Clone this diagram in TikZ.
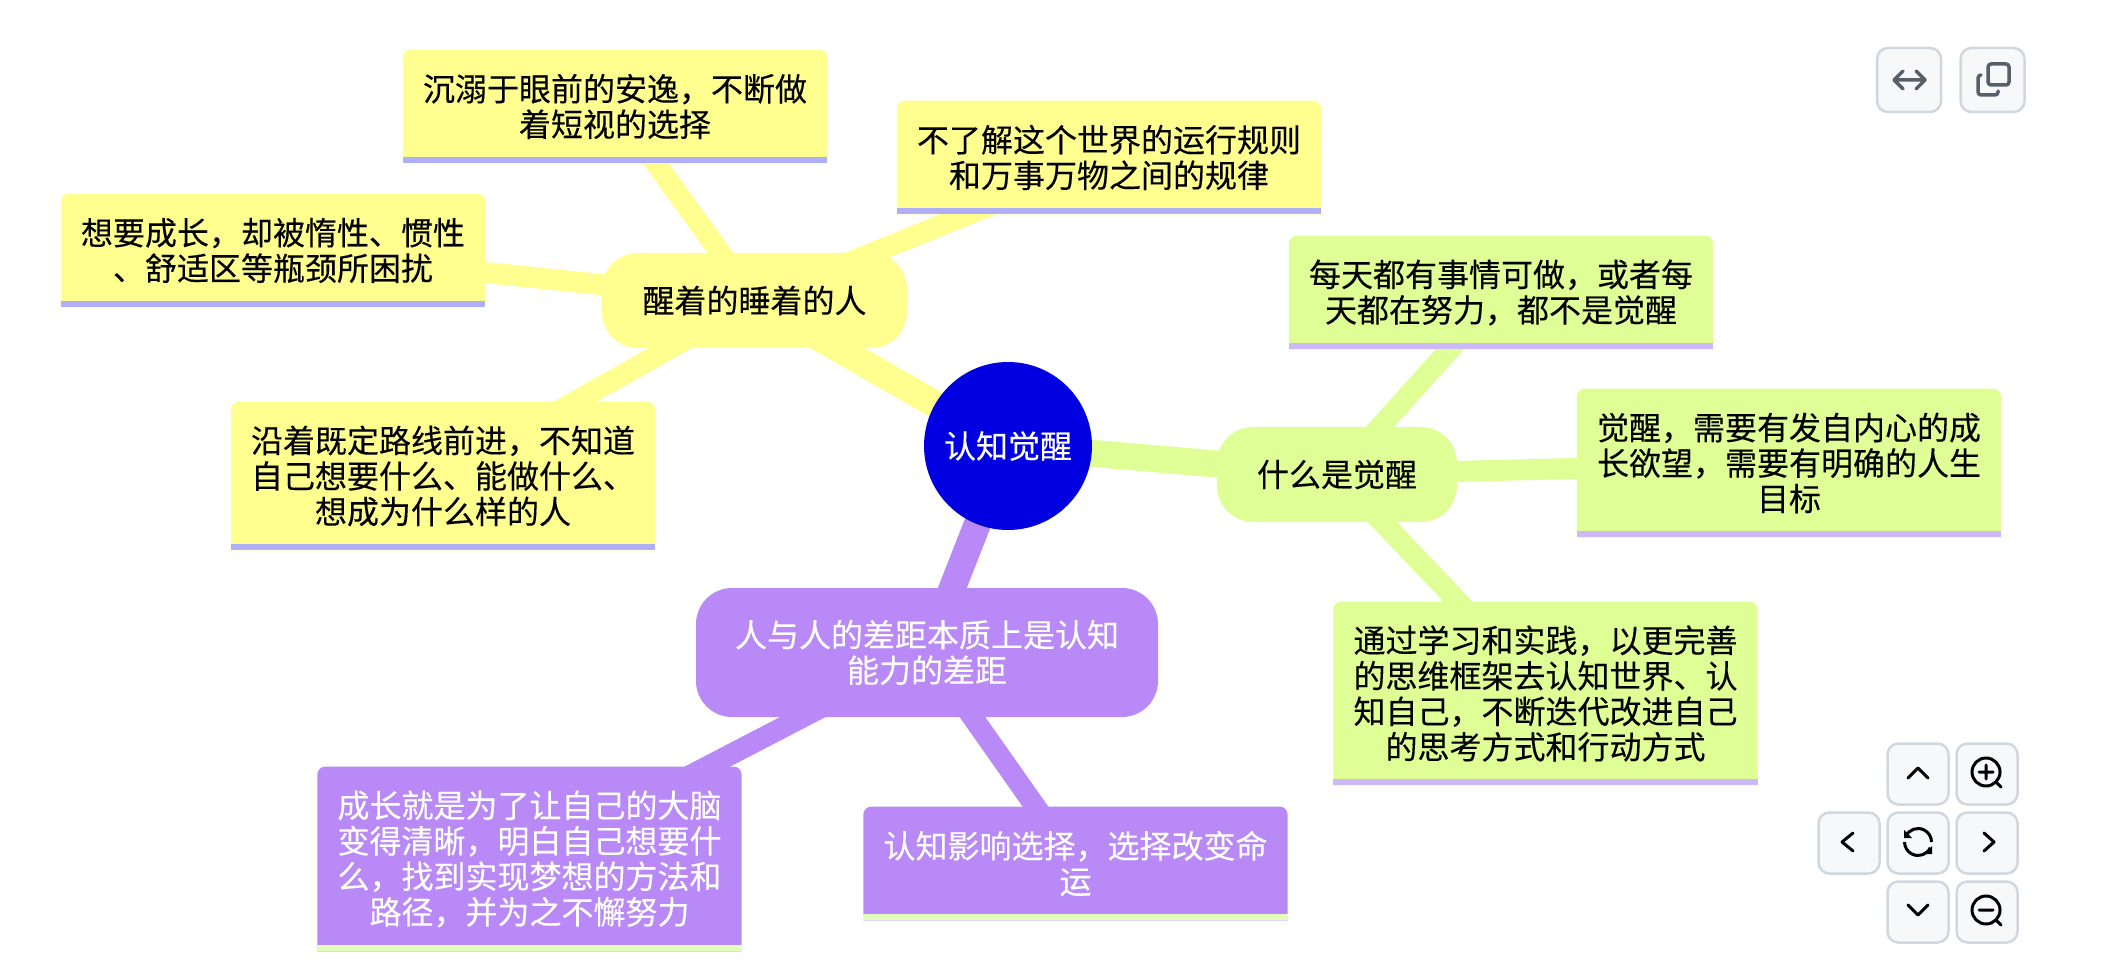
\documentclass[tikz,border=0pt]{standalone}
\usepackage{fontspec}
\usetikzlibrary{calc}
\newfontfamily\cjk[FakeBold=0.2]{Noto Sans CJK SC}
\definecolor{cyel}{HTML}{FFFF90}
\definecolor{cgrn}{HTML}{DFFF96}
\definecolor{cpur}{HTML}{B98AF7}
\definecolor{croot}{HTML}{0000E0}
\definecolor{syel}{HTML}{AFAEF8}
\definecolor{sgrn}{HTML}{CDB9FA}
\definecolor{spur}{HTML}{E3FDBC}
\definecolor{btnfill}{HTML}{F6F8FA}
\definecolor{btnline}{HTML}{D0D7DE}
\definecolor{icongrey}{HTML}{57606A}
\pgfdeclarelayer{edges}
\pgfdeclarelayer{boxes}
\pgfsetlayers{edges,boxes,main}
\tikzset{
  txt/.style={font=\cjk\fontsize{16}{17.75}\selectfont,align=center,inner sep=0pt,text=black},
  rootnode/.style={txt,circle,fill=croot,text=white,minimum size=84pt},
  branchnode/.style={txt,rectangle,rounded corners=18pt,minimum width=#1},
  leafnode/.style={txt,rectangle,minimum width=211.75pt},
  trunk/.style={line width=13.5pt},
  twig/.style={line width=10.5pt},
  btn/.style={draw=btnline,fill=btnfill,line width=1.25pt,rounded corners=5.5pt,minimum size=32pt,inner sep=0pt},
  ico/.style={line width=1.5pt,line cap=round,line join=round,draw=#1},
  ico/.default=black
}
% name, cx, cy, height, fill, stripe, text colour, text
\newcommand{\leafbox}[8]{%
  \node[leafnode,minimum height=#4*0.5pt,text=#7] (#1) at (#2,#3) {#8};
  \begin{pgfonlayer}{boxes}
    \fill[#5] (#1.south west) [rounded corners=4pt] -- (#1.north west) -- (#1.north east) [sharp corners] -- (#1.south east) -- cycle;
    \fill[#6] ($(#1.south west)+(0,-6)$) rectangle (#1.south east);
  \end{pgfonlayer}
}
\begin{document}
\begin{tikzpicture}[x=0.5pt,y=-0.5pt]
\useasboundingbox (0,0) rectangle (2102,972);
% central nodes
\node[rootnode] (root) at (1008,446) {认知觉醒};
\node[branchnode=152.5pt,fill=cyel,minimum height=47.5pt] (sleep) at (754.5,300.5) {醒着的睡着的人};
\node[branchnode=120pt,fill=cgrn,minimum height=47.5pt] (what) at (1337,474.5) {什么是觉醒};
\node[branchnode=231pt,fill=cpur,minimum height=64.5pt,text=white] (gap) at (927,652.5) {人与人的差距本质上是认知\\能力的差距};
% leaves
\leafbox{a1}{615}{106.5}{113}{cyel}{syel}{black}{沉溺于眼前的安逸，不断做\\着短视的选择}
\leafbox{a2}{1109}{157.5}{113}{cyel}{syel}{black}{不了解这个世界的运行规则\\和万事万物之间的规律}
\leafbox{a3}{273}{250.5}{113}{cyel}{syel}{black}{想要成长，却被惰性、惯性\\、舒适区等瓶颈所困扰}
\leafbox{a4}{443}{476}{148}{cyel}{syel}{black}{沿着既定路线前进，不知道\\自己想要什么、能做什么、\\想成为什么样的人}
\leafbox{b1}{1501}{292.5}{113}{cgrn}{sgrn}{black}{每天都有事情可做，或者每\\天都在努力，都不是觉醒}
\leafbox{b2}{1789}{463}{148}{cgrn}{sgrn}{black}{觉醒，需要有发自内心的成\\长欲望，需要有明确的人生\\目标}
\leafbox{b3}{1545.5}{693.5}{183}{cgrn}{sgrn}{black}{通过学习和实践，以更完善\\的思维框架去认知世界、认\\知自己，不断迭代改进自己\\的思考方式和行动方式}
\leafbox{c1}{529.5}{859}{184}{cpur}{spur}{white}{成长就是为了让自己的大脑\\变得清晰，明白自己想要什\\么，找到实现梦想的方法和\\路径，并为之不懈努力}
\leafbox{c2}{1075.5}{863.5}{113}{cpur}{spur}{white}{认知影响选择，选择改变命\\运}
% connectors
\begin{pgfonlayer}{edges}
\draw[trunk,cyel] (root.center) -- (sleep.center);
\draw[trunk,cgrn] (root.center) -- (what.center);
\draw[trunk,cpur] (root.center) -- (gap.center);
\foreach \n in {a1,a2,a3,a4} \draw[twig,cyel] (sleep.center) -- (\n.center);
\foreach \n in {b1,b2,b3} \draw[twig,cgrn] (what.center) -- (\n.center);
\foreach \n in {c1,c2} \draw[twig,cpur] (gap.center) -- (\n.center);
\end{pgfonlayer}
% toolbar buttons
\node[btn] (fit) at (1909,80) {};
\node[btn] (copy) at (1992.5,80) {};
\node[btn,minimum size=30.5pt] (up) at (1918,774) {};
\node[btn,minimum size=30.5pt] (zin) at (1987,774) {};
\node[btn,minimum size=30.5pt] (left) at (1849,843) {};
\node[btn,minimum size=30.5pt] (reset) at (1918,843) {};
\node[btn,minimum size=30.5pt] (right) at (1987,843) {};
\node[btn,minimum size=30.5pt] (down) at (1918,912) {};
\node[btn,minimum size=30.5pt] (zout) at (1987,912) {};
% icons
\draw[ico=icongrey,line width=1.75pt] (1894,80) -- (1925,80) (1903,71) -- (1894,80) -- (1903,89) (1916,71) -- (1925,80) -- (1916,89);
\draw[ico=icongrey,line width=1.75pt,rounded corners=1.5pt] (1988,64) rectangle (2009,85);
\draw[ico=icongrey,line width=1.75pt,rounded corners=1.5pt] (1981,75) -- (1978,75) -- (1978,95) -- (1998,95) -- (1998,91);
\draw[ico] (1908,778) -- (1918,768) -- (1928,778);
\draw[ico] (1853,833) -- (1842,842) -- (1853,851);
\draw[ico] (1984,833) -- (1994,842) -- (1984,851);
\draw[ico] (1908,905) -- (1918,915) -- (1928,905);
\draw[ico] (1986,772) circle[radius=14] (1979,772) -- (1993,772) (1986,765) -- (1986,779) (1996,782) -- (2001,787);
\draw[ico] (1986,910) circle[radius=14] (1979,910) -- (1993,910) (1996,920) -- (2001,925);
\draw[ico,line cap=butt] (1918,842) ++(205:13.5) arc[start angle=205,end angle=360,radius=13.5];
\draw[ico,line cap=butt] (1918,842) ++(25:13.5) arc[start angle=25,end angle=180,radius=13.5];
\fill (1904,830) -- (1904,838) -- (1912,838) -- cycle;
\fill (1932,846) -- (1932,854) -- (1924,854) -- cycle;
\end{tikzpicture}
\end{document}
